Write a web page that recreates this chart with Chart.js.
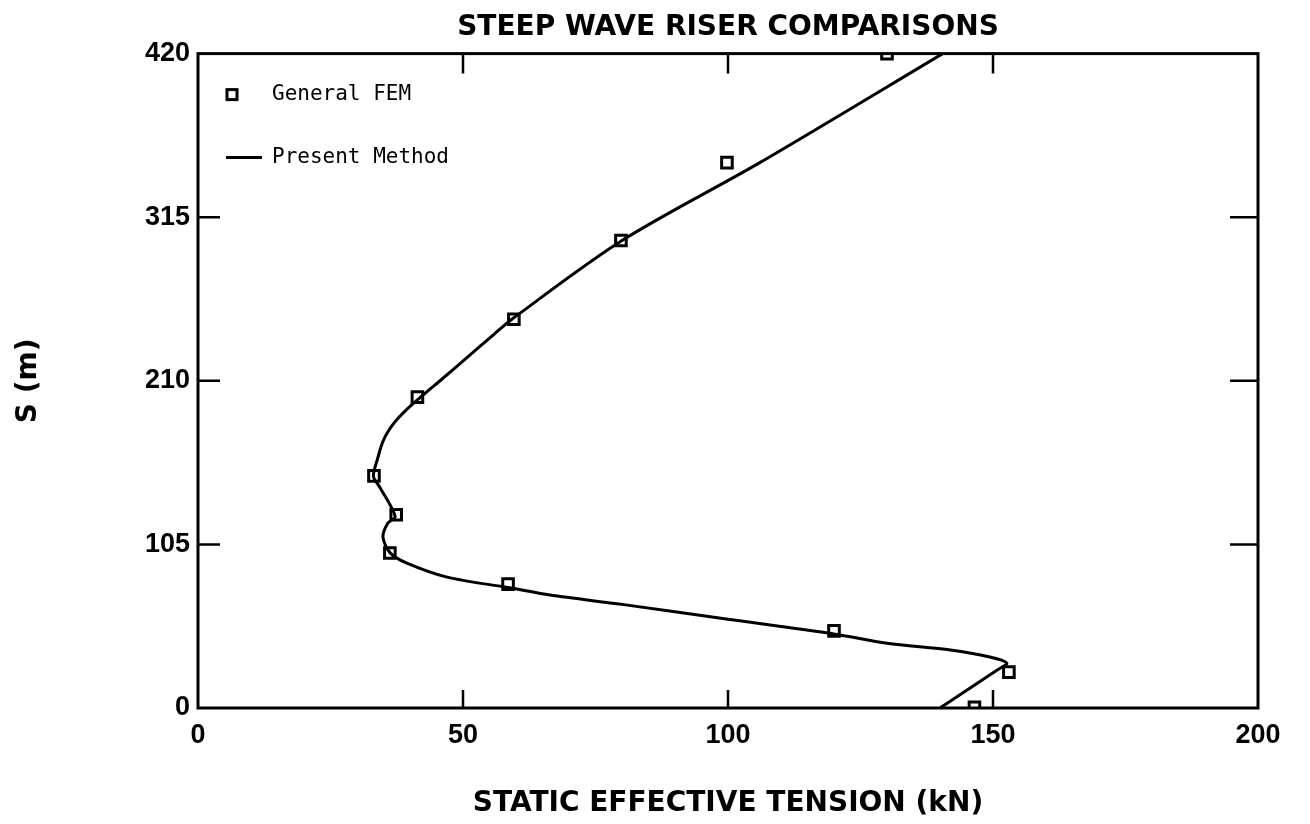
<!DOCTYPE html>
<html>
<head>
<meta charset="utf-8">
<title>Steep wave riser comparisons</title>
<script src="https://cdn.jsdelivr.net/npm/chart.js@4/dist/chart.umd.min.js"></script>
<style>
    html, body { margin: 0; padding: 0; background: #fff; }
    #wrap { width: 1310px; height: 824px; }
</style>
</head>
<body>
<div id="wrap"><canvas id="riser"></canvas></div>
<script>
// General FEM results (tension kN, arc length m)
const femTension = [146.5, 153, 120, 58.5, 36.2, 37.4, 33.2, 41.4, 59.6, 79.8, 99.8, 130];
const femS = [0.5, 23, 49.5, 79.5, 99.5, 124, 149, 199.5, 249.5, 300, 350, 420];

// Present method curve, read along the line from the bottom end
const presentTension = [140, 150.8, 152.6, 149.4, 142, 130, 120, 100, 80, 66.4, 58.5, 47, 39.4, 36.3, 34.9, 35.8, 37.2, 34.3, 33.1, 33.8, 35, 37, 39.5, 42.5, 46, 50.8, 55.9, 59.4, 80, 106, 140.5];
const presentS = [0, 24.4, 28.8, 32.7, 37.2, 41.5, 47.5, 57, 66.5, 72.5, 77.3, 84, 93, 99.4, 109.6, 118.6, 123, 141.7, 148.7, 159, 172, 183, 192, 201, 211, 225, 240, 250, 300, 350, 420];

const xTicks = [0, 50, 100, 150, 200];
const yTicks = [0, 105, 210, 315, 420];

const tickFont = { family: 'Liberation Sans', size: 27, weight: 'bold' };
const titleFont = { family: 'DejaVu Sans', size: 28, weight: 'bold' };
const monoFont = '21px "DejaVu Sans Mono"';

const toPoints = (xs, ys) => xs.map((x, i) => ({ x: x, y: ys[i] }));

// frame, inward tick marks and the legend box
const framePlugin = {
    id: 'frame',
    afterDatasetsDraw(chart) {
        const { ctx, chartArea: a, scales } = chart;
        ctx.save();
        ctx.strokeStyle = '#000';
        ctx.lineWidth = 3;
        ctx.strokeRect(a.left, a.top, a.right - a.left, a.bottom - a.top);
        ctx.lineWidth = 2.5;
        ctx.beginPath();
        xTicks.slice(1, -1).forEach(v => {
            const px = scales.x.getPixelForValue(v);
            ctx.moveTo(px, a.bottom); ctx.lineTo(px, a.bottom - 18);
            ctx.moveTo(px, a.top); ctx.lineTo(px, a.top + 20);
        });
        yTicks.slice(1, -1).forEach(v => {
            const py = scales.y.getPixelForValue(v);
            ctx.moveTo(a.left, py); ctx.lineTo(a.left + 22, py);
            ctx.moveTo(a.right, py); ctx.lineTo(a.right - 28, py);
        });
        ctx.stroke();

        // legend
        const lx = a.left + 34, ly1 = a.top + 41, ly2 = a.top + 104;
        ctx.lineWidth = 3;
        ctx.strokeRect(lx - 5, ly1 - 5, 10, 10);
        ctx.beginPath();
        ctx.moveTo(a.left + 28, ly2); ctx.lineTo(a.left + 64, ly2);
        ctx.stroke();
        ctx.fillStyle = '#000';
        ctx.font = monoFont;
        ctx.textBaseline = 'middle';
        ctx.fillText('General FEM', a.left + 74, ly1);
        ctx.fillText('Present Method', a.left + 74, ly2);
        ctx.restore();
    }
};

const chartconfig = {
    type: 'scatter',
    data: {
        datasets: [
            {
                label: 'Present Method',
                data: toPoints(presentTension, presentS),
                showLine: true,
                borderColor: '#000',
                borderWidth: 3,
                pointRadius: 0,
                tension: 0.3,
                order: 2
            },
            {
                label: 'General FEM',
                data: toPoints(femTension, femS),
                showLine: false,
                pointStyle: 'rect',
                pointRadius: 7.5,
                pointBorderWidth: 3,
                borderColor: '#000',
                backgroundColor: 'rgba(0,0,0,0)',
                order: 1
            }
        ]
    },
    options: {
        responsive: true,
        maintainAspectRatio: false,
        animation: false,
        layout: { padding: { top: 0, right: 52, bottom: 0, left: 0 } },
        scales: {
            x: {
                type: 'linear',
                min: 0,
                max: 200,
                grid: { display: false, drawTicks: false },
                border: { display: false },
                ticks: { stepSize: 50, color: '#000', font: tickFont, padding: 11, maxRotation: 0 },
                title: {
                    display: true,
                    text: 'STATIC EFFECTIVE TENSION (kN)',
                    color: '#000',
                    font: titleFont,
                    padding: { top: 0, bottom: 3 }
                },
                afterFit(scale) { scale.height = 116; }
            },
            y: {
                type: 'linear',
                min: 0,
                max: 420,
                grid: { display: false, drawTicks: false },
                border: { display: false },
                ticks: { stepSize: 105, color: '#000', font: tickFont, padding: 8 },
                title: {
                    display: true,
                    text: 'S (m)',
                    color: '#000',
                    font: titleFont,
                    padding: { top: 12, bottom: 0 }
                },
                afterFit(scale) { scale.width = 198; }
            }
        },
        plugins: {
            legend: { display: false },
            tooltip: { enabled: false },
            title: {
                display: true,
                fullSize: false,
                text: 'STEEP WAVE RISER COMPARISONS',
                color: '#000',
                font: titleFont,
                padding: { top: 11, bottom: 9 }
            }
        }
    },
    plugins: [framePlugin]
};

new Chart('riser', chartconfig);
</script>
</body>
</html>
